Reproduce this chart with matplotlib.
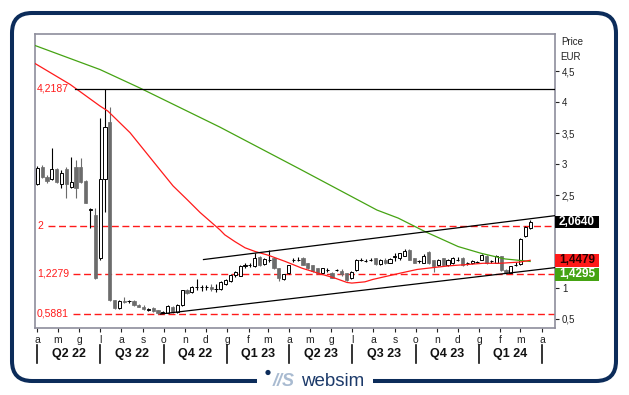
import numpy as np
import matplotlib
matplotlib.use('Agg')
import matplotlib.pyplot as plt
import matplotlib.transforms as mtransforms
from matplotlib.patches import FancyBboxPatch, Rectangle, Circle

plt.rcParams['font.family'] = ['Liberation Sans', 'DejaVu Sans']

# weekly candles from 2022-04-01
start = np.datetime64('2022-04-01')
opens = np.array([
    2.68, 2.96, 2.80, 2.76, 2.92, 2.68, 2.92, 2.64, 2.96, 2.96,
    2.73, 2.26, 2.18, 1.48, 2.76, 3.69, 0.80, 0.67, 0.79, 0.79,
    0.79, 0.73, 0.70, 0.65, 0.67, 0.64, 0.59, 0.60, 0.70, 0.61,
    0.72, 0.97, 0.93, 1.01, 1.01, 1.01, 1.01, 0.98, 0.98, 1.06,
    1.12, 1.21, 1.20, 1.36, 1.37, 1.35, 1.50, 1.39, 1.45, 1.48,
    1.32, 1.15, 1.24, 1.45, 1.45, 1.49, 1.40, 1.37, 1.32, 1.24,
    1.29, 1.25, 1.29, 1.27, 1.24, 1.16, 1.29, 1.45, 1.44, 1.45,
    1.48, 1.39, 1.46, 1.41, 1.50, 1.48, 1.52, 1.62, 1.48, 1.43,
    1.41, 1.59, 1.45, 1.37, 1.48, 1.37, 1.40, 1.46, 1.49, 1.40,
    1.40, 1.42, 1.46, 1.51, 1.43, 1.41, 1.51, 1.29, 1.25, 1.37,
    1.39, 1.84, 1.97])
highs = np.array([
    2.97, 2.98, 2.83, 3.27, 2.94, 2.91, 2.96, 3.11, 3.07, 3.10,
    2.74, 2.29, 2.29, 3.75, 4.2187, 3.92, 0.81, 0.81, 0.85, 0.80,
    0.81, 0.74, 0.72, 0.67, 0.69, 0.64, 0.63, 0.72, 0.71, 0.74,
    0.97, 0.98, 1.03, 1.14, 1.05, 1.05, 1.07, 1.07, 1.11, 1.15,
    1.22, 1.28, 1.37, 1.41, 1.41, 1.57, 1.52, 1.49, 1.61, 1.49,
    1.33, 1.23, 1.38, 1.48, 1.50, 1.50, 1.41, 1.38, 1.33, 1.33,
    1.32, 1.26, 1.31, 1.30, 1.25, 1.27, 1.47, 1.48, 1.47, 1.48,
    1.49, 1.47, 1.48, 1.48, 1.56, 1.57, 1.63, 1.63, 1.49, 1.46,
    1.55, 1.60, 1.46, 1.47, 1.49, 1.47, 1.50, 1.50, 1.50, 1.42,
    1.45, 1.44, 1.55, 1.53, 1.45, 1.53, 1.52, 1.30, 1.36, 1.42,
    1.81, 2.00, 2.10])
lows = np.array([
    2.66, 2.77, 2.70, 2.74, 2.70, 2.61, 2.45, 2.61, 2.46, 2.70,
    2.37, 1.97, 1.14, 1.46, 2.23, 0.79, 0.66, 0.66, 0.75, 0.76,
    0.71, 0.69, 0.65, 0.63, 0.62, 0.5881, 0.59, 0.59, 0.60, 0.60,
    0.71, 0.91, 0.92, 0.97, 0.95, 0.97, 0.95, 0.94, 0.97, 1.05,
    1.10, 1.18, 1.19, 1.33, 1.34, 1.34, 1.36, 1.37, 1.42, 1.30,
    1.11, 1.13, 1.22, 1.42, 1.43, 1.37, 1.30, 1.26, 1.23, 1.22,
    1.26, 1.16, 1.27, 1.20, 1.12, 1.14, 1.28, 1.43, 1.42, 1.43,
    1.38, 1.38, 1.39, 1.40, 1.44, 1.46, 1.51, 1.45, 1.40, 1.41,
    1.40, 1.39, 1.26, 1.36, 1.36, 1.36, 1.39, 1.43, 1.36, 1.37,
    1.39, 1.40, 1.45, 1.39, 1.41, 1.40, 1.27, 1.23, 1.24, 1.35,
    1.38, 1.83, 1.95])
closes = np.array([
    2.94, 2.79, 2.73, 2.92, 2.71, 2.86, 2.68, 2.72, 2.62, 2.72,
    2.38, 2.27, 1.17, 2.76, 3.61, 0.81, 0.68, 0.79, 0.77, 0.79,
    0.72, 0.70, 0.66, 0.66, 0.63, 0.59, 0.62, 0.71, 0.61, 0.73,
    0.96, 0.92, 1.02, 1.02, 1.01, 1.01, 0.98, 0.99, 1.10, 1.13,
    1.21, 1.26, 1.36, 1.37, 1.37, 1.49, 1.38, 1.47, 1.46, 1.32,
    1.16, 1.22, 1.37, 1.45, 1.46, 1.38, 1.32, 1.27, 1.25, 1.32,
    1.29, 1.17, 1.29, 1.23, 1.13, 1.26, 1.45, 1.45, 1.44, 1.45,
    1.39, 1.46, 1.40, 1.47, 1.51, 1.56, 1.60, 1.46, 1.41, 1.44,
    1.52, 1.40, 1.35, 1.46, 1.37, 1.46, 1.49, 1.46, 1.37, 1.40,
    1.44, 1.42, 1.54, 1.40, 1.43, 1.52, 1.29, 1.24, 1.35, 1.38,
    1.80, 1.99, 2.064])

# moving averages (week number, value)
ma_short_wk = [-0.5, 6.8, 13, 14.6, 19.2, 25.4, 28.1, 31, 33.7, 37.8, 38.8, 40.9,
               43, 45.1, 47.8, 51.3, 54.8, 58.1, 61.6, 64.1, 65.1, 67.8, 69.5,
               75.1, 78.6, 81.9, 85.4, 89, 92.3, 95.8, 99.9, 102]
ma_short = [4.63, 4.29, 3.94, 3.86, 3.51, 2.91, 2.65, 2.43, 2.22, 1.94, 1.86, 1.75,
            1.65, 1.59, 1.53, 1.43, 1.32, 1.24, 1.16, 1.09, 1.08, 1.10, 1.14,
            1.24, 1.30, 1.33, 1.36, 1.38, 1.40, 1.40, 1.42, 1.4479]
ma_long_wk = [-0.5, 13, 21.3, 37.8, 54.4, 70.3, 74.7, 80.3, 87.1, 91.9, 96.8, 102]
ma_long = [4.92, 4.53, 4.23, 3.60, 2.92, 2.26, 2.13, 1.91, 1.67, 1.56, 1.47, 1.4295]

# trend channel (week number, value)
chan_up_wk, chan_up = [34.4, 107.2], [1.46, 2.17]
chan_lo_wk, chan_lo = [25.5, 107.2], [0.58, 1.33]

levels = [4.2187, 2.0, 1.2279, 0.5881]
level_txt = ['4,2187', '2', '1,2279', '0,5881']

yticks = [0.5, 1, 1.5, 2, 2.5, 3, 3.5, 4, 4.5]
quarters = ['Q2 22', 'Q3 22', 'Q4 22', 'Q1 23', 'Q2 23', 'Q3 23', 'Q4 23', 'Q1 24']

navy = '#0c2c5a'
gray = '#6c6c6c'
red = '#ff1a1a'
green = '#45a313'

fig = plt.figure(figsize=(6.29, 3.95), dpi=100)

# background frame + logo (pixel coords)
bg = fig.add_axes([0, 0, 1, 1])
bg.set_xlim(0, 629)
bg.set_ylim(395, 0)
bg.axis('off')
bg.add_patch(FancyBboxPatch((12, 13), 604, 368, boxstyle='round,pad=0,rounding_size=20',
                            fill=False, ec=navy, lw=2.9))
bg.add_patch(Rectangle((257, 370), 116, 22, fc='white', ec='none'))
bg.add_patch(Circle((268, 372.5), 2.6, fc=navy, ec='none'))
bg.text(284, 381, '//S', fontsize=13, fontweight='bold', fontstyle='italic',
        color='#a9bbd1', ha='center', va='center')
bg.text(333, 381, 'websim', fontsize=13.5, color='#1c3a6a', ha='center', va='center',
        family=['Liberation Sans Narrow', 'Liberation Sans'])
bg.text(561, 42, 'Price', fontsize=7, color='#222222', va='center')
bg.text(560, 57, 'EUR', fontsize=7, color='#222222', va='center')

ax = fig.add_axes([35 / 629, 67 / 395, 520 / 629, 294 / 395])
ax.set_xlim(-3.3, 750)
ax.set_ylim(0.354, 5.105)

days = np.arange(len(closes)) * 7.0
up = closes >= opens
bot = np.minimum(opens, closes)
hgt = np.abs(closes - opens)

ax.vlines(days[up], lows[up], highs[up], color='black', lw=0.8, zorder=2)
ax.vlines(days[~up], lows[~up], highs[~up], color=gray, lw=0.8, zorder=2)
ax.bar(days[up], hgt[up], bottom=bot[up], width=4.6, color='white',
       edgecolor='black', linewidth=0.7, zorder=3)
ax.bar(days[~up], hgt[~up], bottom=bot[~up], width=4.6, color=gray,
       edgecolor=gray, linewidth=0.5, zorder=3)

ax.plot(np.array(ma_long_wk) * 7, ma_long, color=green, lw=0.9, zorder=4)
ax.plot(np.array(ma_short_wk) * 7, ma_short, color=red, lw=0.9, zorder=4)
ax.plot(np.array(chan_up_wk) * 7, chan_up, color='black', lw=0.9, zorder=4)
ax.plot(np.array(chan_lo_wk) * 7, chan_lo, color='black', lw=0.9, zorder=4)

trans = mtransforms.blended_transform_factory(ax.transAxes, ax.transData)
line_start = [0.077, 0.025, 0.073, 0.073]
for lv, txt, xs in zip(levels, level_txt, line_start):
    if lv == max(levels):
        ax.axhline(lv, xmin=xs, color='black', lw=0.9, zorder=4)
    else:
        ax.axhline(lv, xmin=xs, color=red, lw=1.0, ls=(0, (5, 2.6)), zorder=1)
    ax.text(0.004, lv, txt, transform=trans, color=red, fontsize=7.5,
            ha='left', va='center')

for sp in ax.spines.values():
    sp.set_color('#8e8e9c')
    sp.set_linewidth(1.2)

# last value boxes cover the 1,5 and 2 tick labels, so leave those blank
ax.yaxis.tick_right()
ax.set_yticks(yticks)
ax.set_yticklabels(['' if t in (1.5, 2) else ('%g' % t).replace('.', ',') for t in yticks])
ax.tick_params(axis='y', length=3, width=0.8, colors='#222222', labelsize=7, pad=2)

months = np.arange(np.datetime64('2022-04'), np.datetime64('2024-05'))
mdays = (months.astype('datetime64[D]') - start).astype(int)
mletters = ['gfmamglasond'[int(str(m)[5:7]) - 1] for m in months]
ax.set_xticks(mdays)
ax.set_xticklabels(mletters)
ax.tick_params(axis='x', length=3, width=0.8, colors='#222222', labelsize=7.5, pad=2)

qtrans = mtransforms.blended_transform_factory(ax.transData, ax.transAxes)
qb = mdays[::3]
for b in qb:
    ax.plot([b, b], [-0.058, -0.12], transform=qtrans, color='#111111', lw=1.2,
            clip_on=False)
for i, q in enumerate(quarters):
    ax.text((qb[i] + qb[i + 1]) / 2, -0.088, q, transform=qtrans, ha='center',
            va='center', fontsize=9, fontweight='bold', color='#111111')

# last value boxes
box_w = 44 / 520
box_h = 12.5 / 61.8
last_vals = [closes[-1], ma_short[-1], ma_long[-1]]
box_fc = ['black', red, green]
box_tc = ['white', '#2a0000', 'white']
box_shift = [0, 0, -13 / 61.8]
for v, fc, tc, sh in zip(last_vals, box_fc, box_tc, box_shift):
    ax.add_patch(Rectangle((1.0, v + sh - box_h / 2), box_w, box_h, transform=trans,
                           fc=fc, ec='none', clip_on=False, zorder=10))
    ax.text(1.0 + box_w / 2, v + sh, ('%.4f' % v).replace('.', ','), transform=trans,
            color=tc, fontsize=8.5, fontweight='bold', ha='center', va='center',
            zorder=11, clip_on=False)

fig.savefig('out.png', dpi=100)
